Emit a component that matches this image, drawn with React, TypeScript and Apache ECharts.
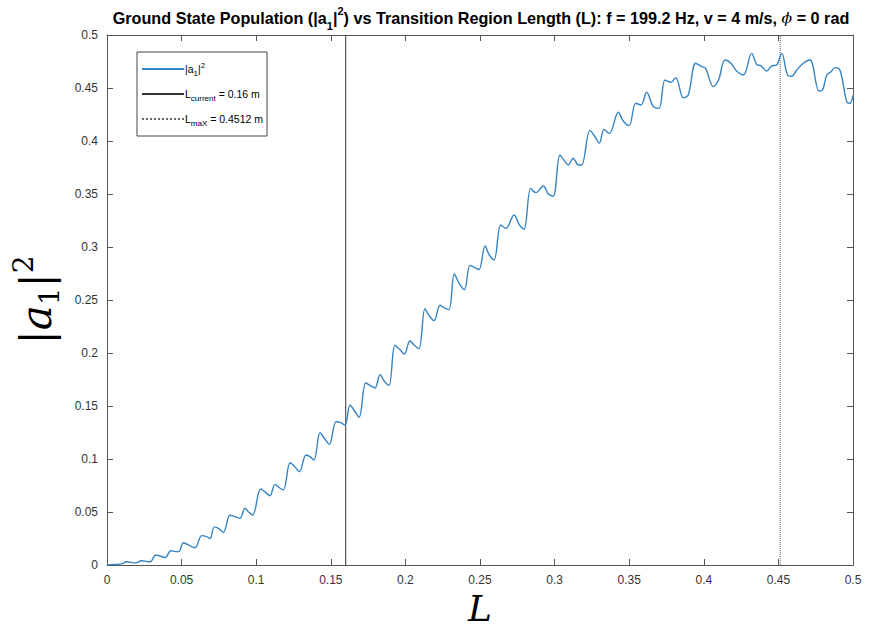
import React, { useEffect, useRef } from 'react';
import * as echarts from 'echarts';

// Transition region length L (m)
const L_VALUES: number[] = [
  0, 0.005, 0.0098, 0.013, 0.019, 0.023, 0.029, 0.0326, 0.0355, 0.039,
  0.0429, 0.0467, 0.0485, 0.0512, 0.0545, 0.059, 0.0635, 0.0668, 0.069, 0.072,
  0.0746, 0.078, 0.0824, 0.0858, 0.0891, 0.0925, 0.0947, 0.0976, 0.103, 0.1059,
  0.1092, 0.1126, 0.1155, 0.1182, 0.1227, 0.1253, 0.1289, 0.1334, 0.1361, 0.1387,
  0.1428, 0.1454, 0.149, 0.1535, 0.1562, 0.1595, 0.1629, 0.1655, 0.1689, 0.1734,
  0.1763, 0.1796, 0.183, 0.1859, 0.189, 0.193, 0.1964, 0.1993, 0.2031, 0.206,
  0.2091, 0.2131, 0.2158, 0.2192, 0.2232, 0.2261, 0.2292, 0.2328, 0.2359, 0.2395,
  0.2433, 0.2462, 0.2493, 0.2534, 0.2562, 0.2594, 0.2639, 0.2674, 0.2728, 0.2764,
  0.2795, 0.284, 0.2875, 0.2924, 0.2958, 0.2991, 0.3036, 0.307, 0.3092, 0.3125,
  0.3159, 0.3181, 0.3237, 0.3271, 0.33, 0.3331, 0.3367, 0.3427, 0.346, 0.3499,
  0.3544, 0.3579, 0.3617, 0.3662, 0.37, 0.374, 0.378, 0.3812, 0.3863, 0.3896,
  0.3946, 0.3986, 0.4012, 0.4064, 0.41, 0.4142, 0.4182, 0.422, 0.4265, 0.4321,
  0.4354, 0.4383, 0.4421, 0.4455, 0.4488, 0.4522, 0.4562, 0.4589, 0.4622, 0.4667,
  0.4712, 0.4772, 0.4795, 0.4824, 0.4853, 0.488, 0.4913, 0.4958, 0.498, 0.5,
];

// Ground state population |a1|^2
const POP_VALUES: number[] = [
  0, 0.0005, 0.001, 0.003, 0.002, 0.004, 0.003, 0.0094, 0.0085, 0.007,
  0.0135, 0.0126, 0.013, 0.021, 0.0189, 0.0163, 0.0277, 0.0267, 0.025, 0.036,
  0.0346, 0.0308, 0.047, 0.0456, 0.044, 0.0535, 0.0503, 0.047, 0.0717, 0.069,
  0.0654, 0.0761, 0.0729, 0.0708, 0.0965, 0.0937, 0.088, 0.1038, 0.1022, 0.099,
  0.1248, 0.1201, 0.1138, 0.1352, 0.1346, 0.132, 0.151, 0.1462, 0.1393, 0.1717,
  0.1695, 0.167, 0.1795, 0.1733, 0.1695, 0.2073, 0.2031, 0.199, 0.2116, 0.2073,
  0.2041, 0.2418, 0.2355, 0.2305, 0.245, 0.2425, 0.2409, 0.2745, 0.266, 0.2597,
  0.2827, 0.2808, 0.2786, 0.301, 0.2925, 0.2877, 0.3208, 0.3176, 0.3302, 0.3208,
  0.3167, 0.3553, 0.3513, 0.3575, 0.35, 0.3481, 0.3868, 0.3805, 0.3774, 0.3837,
  0.3774, 0.3774, 0.41, 0.404, 0.398, 0.411, 0.407, 0.4271, 0.4189, 0.4145,
  0.4356, 0.434, 0.446, 0.4324, 0.4308, 0.4575, 0.4554, 0.4597, 0.4408, 0.4434,
  0.4733, 0.4701, 0.4686, 0.4513, 0.458, 0.4764, 0.4733, 0.466, 0.4623, 0.4827,
  0.4723, 0.471, 0.466, 0.4708, 0.4717, 0.4827, 0.462, 0.4611, 0.4667, 0.4733,
  0.4764, 0.4472, 0.448, 0.462, 0.4654, 0.4692, 0.4667, 0.437, 0.4356, 0.443,
];

const L_CURRENT = 0.16;
const L_MAX = 0.4512;
const X_MIN = 0;
const X_MAX = 0.5;
const X_STEP = 0.05;
const Y_MIN = 0;
const Y_MAX = 0.5;
const Y_STEP = 0.05;

const SERIES_NAMES = ['pop', 'cur', 'max'];
const LEGEND_TEXTS: Record<string, string> = {
  pop: '|a{sub|1}|{sup|2}',
  cur: 'L{sub|current} = 0.16 m',
  max: 'L{sub|maX} = 0.4512 m',
};

const FONT = 'Liberation Sans, Arial, sans-serif';
const SERIF = 'DejaVu Serif, Liberation Serif, serif';
const AXIS_COLOR = '#555555';

export default function App() {
  const ref = useRef<HTMLDivElement>(null);

  useEffect(() => {
    if (!ref.current) return;
    const chart = echarts.init(ref.current, null, { renderer: 'svg' });

    const popData = L_VALUES.map((x, i) => [x, POP_VALUES[i]]);
    const curData = [[L_CURRENT, Y_MIN], [L_CURRENT, Y_MAX]];
    const maxData = [[L_MAX, Y_MIN], [L_MAX, Y_MAX]];

    const tickCommon = {
      axisTick: { show: true, inside: true, length: 6, lineStyle: { color: AXIS_COLOR, width: 1 } },
      axisLine: { show: true, onZero: false, lineStyle: { color: AXIS_COLOR, width: 1 } },
      splitLine: { show: false },
    };

    const option: any = {
      animation: false,
      backgroundColor: '#ffffff',
      title: {
        text: 'Ground State Population (|a{sub|1}|{sup|2}) vs Transition Region Length (L): f = 199.2 Hz, v = 4 m/s, {it|ϕ} = 0 rad',
        left: 476,
        textAlign: 'center',
        top: 0,
        textStyle: {
          fontFamily: FONT,
          fontWeight: 'bold',
          fontSize: 16.2,
          color: '#000',
          lineHeight: 26,
          rich: {
            sub: { fontFamily: FONT, fontWeight: 'bold', fontSize: 11, verticalAlign: 'bottom', lineHeight: 14, color: '#000' },
            sup: { fontFamily: FONT, fontWeight: 'bold', fontSize: 11, verticalAlign: 'top', lineHeight: 14, color: '#000' },
            it: { fontFamily: SERIF, fontStyle: 'italic', fontWeight: 'normal', fontSize: 15.5, lineHeight: 26, color: '#000' },
          },
        },
      },
      grid: { left: 107, right: 22, top: 35, bottom: 67, containLabel: false, outerBoundsMode: 'none' },
      legend: {
        orient: 'vertical',
        left: 137,
        top: 52,
        data: SERIES_NAMES,
        itemWidth: 42,
        itemHeight: 14,
        itemGap: 9,
        padding: [9, 4, 9, 4],
        borderColor: '#444',
        borderWidth: 1,
        borderRadius: 0,
        backgroundColor: '#fff',
        itemStyle: { opacity: 0 },
        formatter: (name: string) => LEGEND_TEXTS[name] || name,
        textStyle: {
          fontFamily: FONT,
          fontSize: 10.5,
          color: '#000',
          lineHeight: 16,
          padding: [0, 0, 0, -4],
          rich: {
            sub: { fontFamily: FONT, fontSize: 8, verticalAlign: 'bottom', lineHeight: 9, color: '#000' },
            sup: { fontFamily: FONT, fontSize: 8, verticalAlign: 'top', lineHeight: 9, color: '#000' },
          },
        },
      },
      xAxis: [
        {
          type: 'value',
          min: X_MIN,
          max: X_MAX,
          interval: X_STEP,
          position: 'bottom',
          ...tickCommon,
          axisLabel: { fontFamily: FONT, fontSize: 12, color: '#333', margin: 9 },
          name: 'L',
          nameLocation: 'middle',
          nameGap: 20,
          nameTextStyle: { fontFamily: SERIF, fontStyle: 'italic', fontSize: 36, color: '#000' },
        },
        {
          type: 'value',
          min: X_MIN,
          max: X_MAX,
          interval: X_STEP,
          position: 'top',
          ...tickCommon,
          axisLabel: { show: false },
        },
      ],
      yAxis: [
        {
          type: 'value',
          min: Y_MIN,
          max: Y_MAX,
          interval: Y_STEP,
          position: 'left',
          ...tickCommon,
          axisLabel: { fontFamily: FONT, fontSize: 12, color: '#333', margin: 9 },
          name: '|{it|a}{sub|1}|{sup|2}',
          nameLocation: 'middle',
          nameRotate: 90,
          nameGap: 42,
          nameTextStyle: {
            fontFamily: SERIF,
            fontSize: 42,
            color: '#000',
            lineHeight: 54,
            rich: {
              it: { fontFamily: SERIF, fontStyle: 'italic', fontSize: 42, lineHeight: 54, color: '#000' },
              sub: { fontFamily: SERIF, fontSize: 28, verticalAlign: 'bottom', lineHeight: 38, color: '#000' },
              sup: { fontFamily: SERIF, fontSize: 28, verticalAlign: 'top', lineHeight: 30, color: '#000' },
            },
          },
        },
        {
          type: 'value',
          min: Y_MIN,
          max: Y_MAX,
          interval: Y_STEP,
          position: 'right',
          ...tickCommon,
          axisLabel: { show: false },
        },
      ],
      series: [
        {
          name: 'pop',
          type: 'line',
          data: popData,
          smooth: 0.35,
          symbol: 'none',
          showSymbol: false,
          lineStyle: { color: '#3584c4', width: 1.4 },
          itemStyle: { color: '#3584c4' },
          z: 3,
        },
        {
          name: 'cur',
          type: 'line',
          data: curData,
          symbol: 'none',
          showSymbol: false,
          lineStyle: { color: '#333333', width: 1 },
          itemStyle: { color: '#333333' },
          z: 2,
        },
        {
          name: 'max',
          type: 'line',
          data: maxData,
          symbol: 'none',
          showSymbol: false,
          lineStyle: { color: '#666666', width: 1, type: 'dotted' },
          itemStyle: { color: '#666666' },
          z: 2,
        },
      ],
    };

    chart.setOption(option);
    return () => chart.dispose();
  }, []);

  return (
    <div
      ref={ref}
      style={{ position: 'fixed', left: 0, top: 0, width: 875, height: 632, background: '#fff' }}
    />
  );
}
